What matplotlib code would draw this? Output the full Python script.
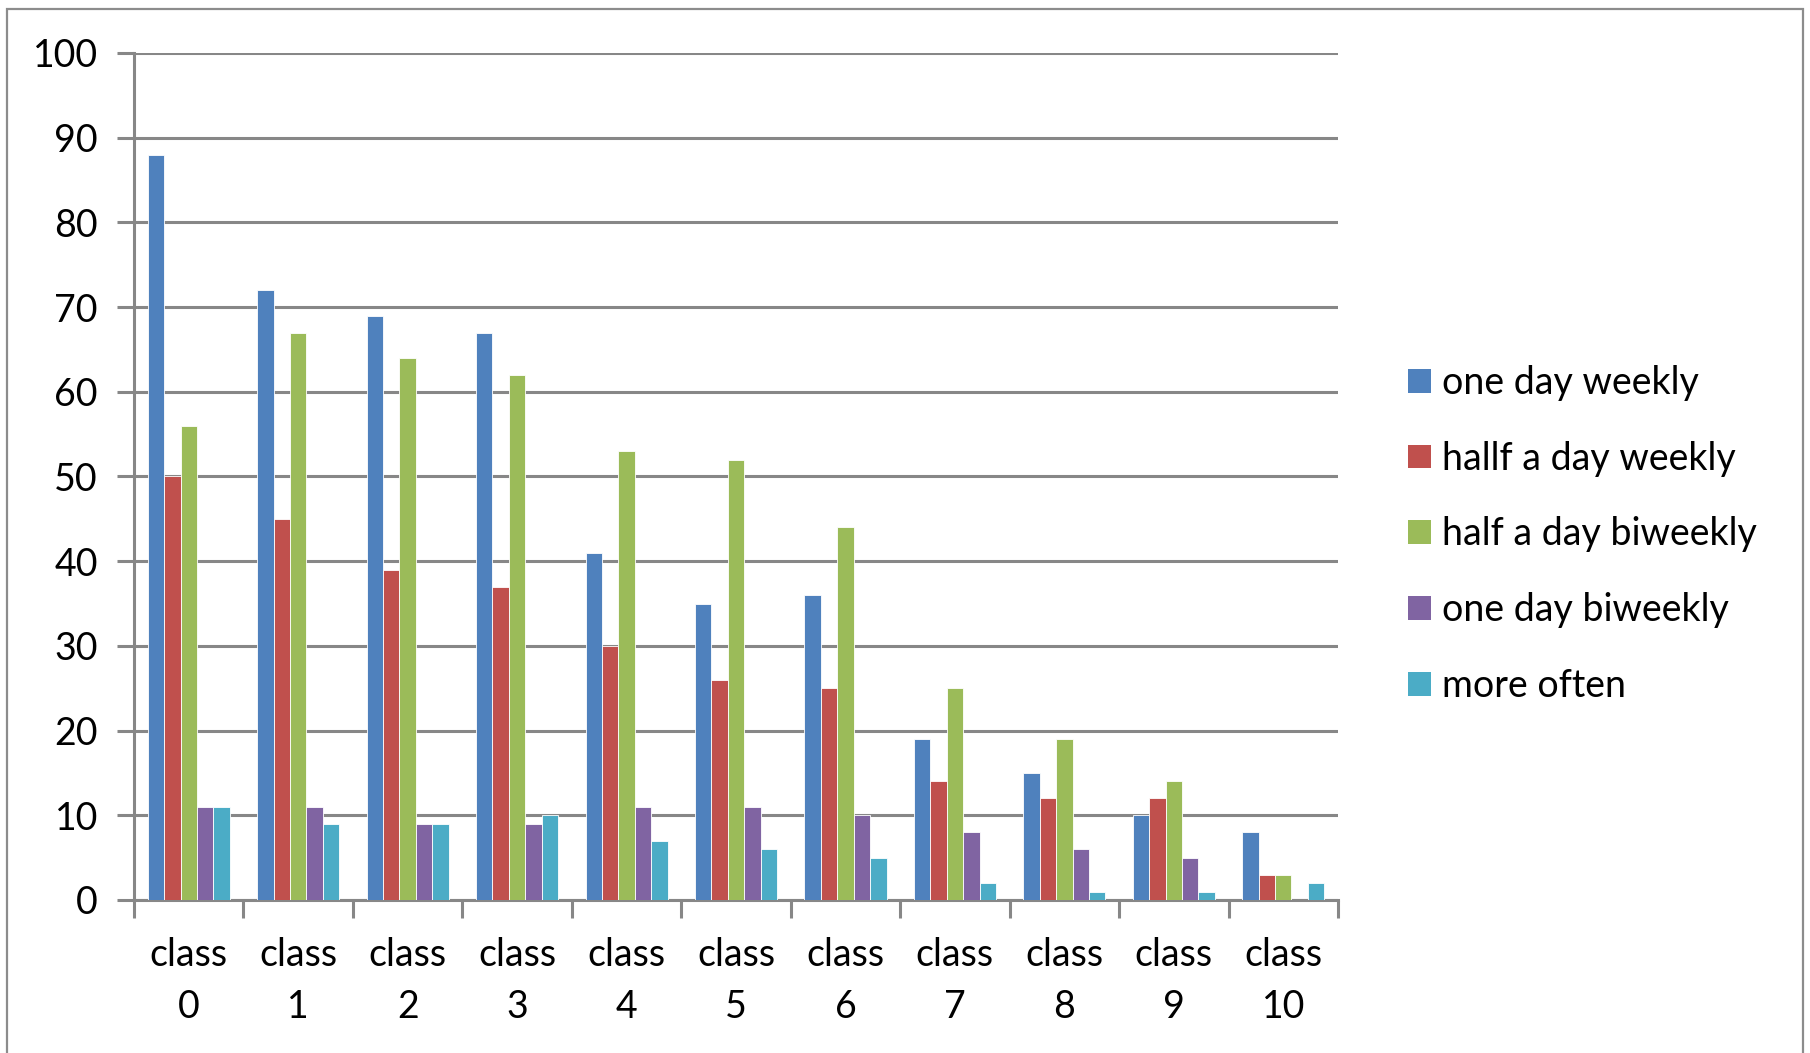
import matplotlib
matplotlib.use("Agg")
import matplotlib.pyplot as plt
import numpy as np
from matplotlib.patches import Patch, Rectangle

plt.rcParams["font.family"] = ["Lato", "DejaVu Sans"]

# 데이터
categories = ["class\n0", "class\n1", "class\n2", "class\n3", "class\n4", "class\n5",
              "class\n6", "class\n7", "class\n8", "class\n9", "class\n10"]
series_names = ["one day weekly", "hallf a day weekly", "half a day biweekly",
                "one day biweekly", "more often"]
one_day_weekly = [88, 72, 69, 67, 41, 35, 36, 19, 15, 10, 8]
half_day_weekly = [50, 45, 39, 37, 30, 26, 25, 14, 12, 12, 3]
half_day_biweekly = [56, 67, 64, 62, 53, 52, 44, 25, 19, 14, 3]
one_day_biweekly = [11, 11, 9, 9, 11, 11, 10, 8, 6, 5, 0]
more_often = [11, 9, 9, 10, 7, 6, 5, 2, 1, 1, 2]
colors = ["#4F81BD", "#C0504D", "#9BBB59", "#8064A2", "#4BACC6"]

values = [one_day_weekly, half_day_weekly, half_day_biweekly, one_day_biweekly, more_often]

grid_color = "#878787"
fs = 27

fig = plt.figure(figsize=(18.1, 10.53), dpi=100)
ax = fig.add_axes([134 / 1810, 1 - 900 / 1053, (1338 - 134) / 1810, (900 - 53) / 1053])

x = np.arange(len(categories))
bw = 0.15
for i, (vals, col) in enumerate(zip(values, colors)):
    ax.bar(x - 2 * bw + i * bw, vals, width=bw, color=col, edgecolor="white",
           linewidth=0.6, zorder=3)

ax.set_xlim(-0.5, len(categories) - 0.5)
ax.set_ylim(0, 100)
ax.set_yticks(np.arange(0, 101, 10))
ax.yaxis.grid(True, color=grid_color, linewidth=2.2, zorder=0)
ax.set_axisbelow(True)

ax.set_xticks(x)
ax.set_xticklabels(categories, fontsize=fs, linespacing=1.52)
ax.set_xticks(np.arange(-0.5, len(categories), 1), minor=True)
ax.tick_params(axis="x", which="major", length=0, pad=27)
ax.tick_params(axis="x", which="minor", length=13, width=2.2, color=grid_color, direction="out")
ax.tick_params(axis="y", length=12, width=2.2, color=grid_color, labelsize=fs, pad=14)

for s in ["top", "right"]:
    ax.spines[s].set_visible(False)
for s in ["left", "bottom"]:
    ax.spines[s].set_color(grid_color)
    ax.spines[s].set_linewidth(2.2)

handles = [Patch(facecolor=c, edgecolor="none") for c in colors]
fig.legend(handles, series_names, loc="upper left", bbox_to_anchor=(1393 / 1810, 1 - 350 / 1053),
           frameon=False, fontsize=fs, handlelength=0.6, handleheight=0.6,
           handletextpad=0.3, labelspacing=1.06, borderaxespad=0)

# 바깥 테두리
fig.add_artist(Rectangle((7 / 1810, -0.05), (1803 - 7) / 1810, 1.05 - 9 / 1053,
                         transform=fig.transFigure, fill=False, edgecolor="#8c8c8c",
                         linewidth=1.6))

fig.savefig("out.png", dpi=100)
